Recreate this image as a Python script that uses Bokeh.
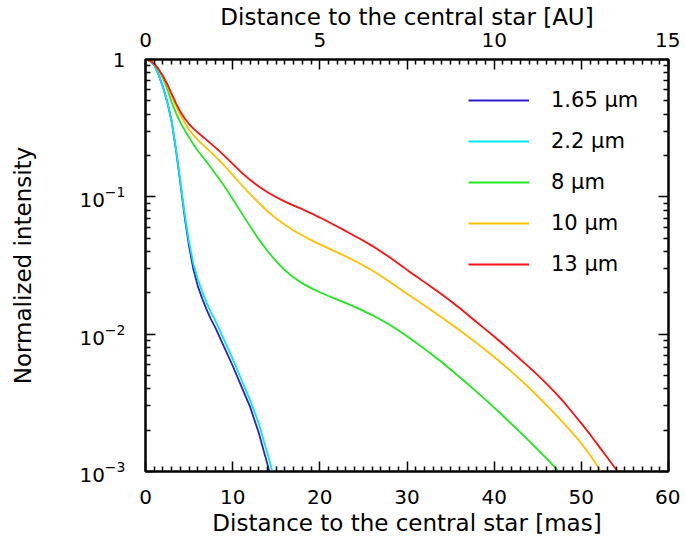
import numpy as np
from bokeh.plotting import figure
from bokeh.models import (LinearAxis, LogAxis, Range1d, FixedTicker, Legend,
                          LegendItem, LogTickFormatter)
from bokeh.embed import file_html
from bokeh.resources import INLINE

# ---- data (distance in mas, log10 of normalized intensity) ----
x_165 = [0, 0.5, 1, 1.5, 2, 2.5, 3, 3.5, 4, 4.5, 5, 5.5, 6, 6.5, 7, 7.5, 8, 9, 10, 11, 12, 13, 14, 14.2]
log10_165 = [0, -0.01, -0.04, -0.11, -0.2, -0.31, -0.45, -0.66, -0.9, -1.15, -1.36, -1.53, -1.65, -1.74,
             -1.82, -1.89, -1.95, -2.09, -2.23, -2.38, -2.53, -2.72, -2.95, -3.0]

x_22 = [0, 0.5, 1, 1.5, 2, 2.5, 3, 3.5, 4, 4.5, 5, 5.5, 6, 6.5, 7, 7.5, 8, 9, 10, 11, 12, 13, 14, 14.55]
log10_22 = [0, -0.01, -0.04, -0.11, -0.2, -0.31, -0.45, -0.65, -0.89, -1.13, -1.33, -1.49, -1.6, -1.69,
            -1.77, -1.84, -1.9, -2.04, -2.18, -2.33, -2.48, -2.65, -2.87, -3.0]

x_8 = [0, 0.5, 1, 1.5, 2, 2.5, 3, 3.5, 4, 4.5, 5, 5.5, 6, 7, 8, 9, 10, 11, 12, 13, 14, 15, 16, 17, 18,
       19, 20, 21, 22, 23, 24, 25, 26, 27, 28, 29, 30, 31, 32, 33, 34, 35, 36, 37, 38, 39, 40, 41,
       42, 43, 44, 45, 46, 47, 47.4]
log10_8 = [0, -0.008, -0.03, -0.075, -0.135, -0.215, -0.31, -0.39, -0.46, -0.515, -0.568, -0.618,
           -0.664, -0.745, -0.83, -0.917, -1.015, -1.115, -1.215, -1.31, -1.395, -1.47, -1.535,
           -1.588, -1.63, -1.665, -1.695, -1.722, -1.748, -1.774, -1.801, -1.83, -1.861, -1.895,
           -1.932, -1.972, -2.015, -2.06, -2.107, -2.155, -2.205, -2.257, -2.31, -2.365, -2.42,
           -2.477, -2.535, -2.594, -2.654, -2.715, -2.777, -2.84, -2.905, -2.972, -3.0]

x_10 = [0, 0.5, 1, 1.5, 2, 2.5, 3, 3.5, 4, 4.5, 5, 5.5, 6, 7, 8, 9, 10, 11, 12, 13, 14, 15, 16, 17,
        18, 19, 20, 21, 22, 23, 24, 25, 26, 27, 28, 29, 30, 31, 32, 33, 34, 35, 36, 37, 38, 39, 40,
        41, 42, 43, 44, 45, 46, 47, 48, 49, 50, 51, 52, 52.2]
log10_10 = [0, -0.008, -0.03, -0.07, -0.125, -0.19, -0.265, -0.34, -0.405, -0.46, -0.51, -0.55,
            -0.585, -0.645, -0.706, -0.77, -0.84, -0.912, -0.98, -1.045, -1.105, -1.158, -1.204,
            -1.245, -1.282, -1.315, -1.346, -1.375, -1.404, -1.434, -1.466, -1.5, -1.537, -1.577,
            -1.619, -1.662, -1.705, -1.748, -1.791, -1.835, -1.879, -1.924, -1.97, -2.017, -2.065,
            -2.115, -2.166, -2.219, -2.274, -2.331, -2.39, -2.452, -2.516, -2.582, -2.65, -2.72,
            -2.795, -2.88, -2.975, -3.0]

x_13 = [0, 0.5, 1, 1.5, 2, 2.5, 3, 3.5, 4, 4.5, 5, 5.5, 6, 7, 8, 9, 10, 11, 12, 13, 14, 15, 16, 17,
        18, 19, 20, 21, 22, 23, 24, 25, 26, 27, 28, 29, 30, 31, 32, 33, 34, 35, 36, 37, 38, 39, 40,
        41, 42, 43, 44, 45, 46, 47, 48, 49, 50, 51, 52, 53, 54, 54.2]
log10_13 = [0, -0.008, -0.03, -0.07, -0.12, -0.18, -0.25, -0.32, -0.38, -0.43, -0.47, -0.503, -0.532,
            -0.585, -0.64, -0.698, -0.76, -0.822, -0.877, -0.925, -0.967, -1.003, -1.035, -1.064,
            -1.09, -1.12, -1.151, -1.183, -1.216, -1.25, -1.285, -1.32, -1.357, -1.398, -1.44,
            -1.485, -1.532, -1.577, -1.621, -1.665, -1.711, -1.758, -1.808, -1.86, -1.913, -1.965,
            -2.017, -2.072, -2.127, -2.183, -2.24, -2.298, -2.36, -2.425, -2.495, -2.572, -2.65,
            -2.73, -2.815, -2.9, -2.985, -3.0]

labels = ["1.65 \u03bcm", "2.2 \u03bcm", "8 \u03bcm", "10 \u03bcm", "13 \u03bcm"]
colors = ["#2a1fd0", "#00e8ff", "#1ee81e", "#ffc000", "#ff1010"]
series_x = [x_165, x_22, x_8, x_10, x_13]
series_log = [log10_165, log10_22, log10_8, log10_10, log10_13]

y_ticks = [1e-3, 1e-2, 1e-1, 1.0]
x_ticks = [0, 10, 20, 30, 40, 50, 60]
au_ticks = [0, 2.5, 5, 7.5, 10, 12.5, 15]

FONT = "DejaVu Sans"
FS = "20px"
TFS = "23px"

p = figure(width=680, height=540, y_axis_type="log",
           x_range=Range1d(0, 60), y_range=Range1d(1e-3, 1.0),
           output_backend="svg", toolbar_location=None,
           min_border_left=145, min_border_right=12, min_border_top=58, min_border_bottom=69)
p.extra_x_ranges = {"au": Range1d(0, 15)}
p.xgrid.visible = False
p.ygrid.visible = False
p.outline_line_color = "black"
p.outline_line_width = 2
p.background_fill_color = "white"
p.border_fill_color = "white"

renderers = []
for xs, ls, c in zip(series_x, series_log, colors):
    r = p.line(xs, [10 ** v for v in ls], line_color=c, line_width=1.8)
    renderers.append(r)


def style(ax):
    ax.axis_line_width = 2
    ax.axis_line_color = "black"
    ax.major_tick_in = 10
    ax.major_tick_out = 0
    ax.minor_tick_in = 5
    ax.minor_tick_out = 0
    ax.major_tick_line_width = 1.5
    ax.minor_tick_line_width = 1.5
    ax.major_label_text_font = FONT
    ax.major_label_text_font_size = FS
    ax.major_label_text_color = "black"
    ax.axis_label_text_font = FONT
    ax.axis_label_text_font_size = TFS
    ax.axis_label_text_font_style = "normal"
    ax.axis_label_text_color = "black"


minor_x = [v for v in range(0, 61) if v % 10 != 0]
xa = p.xaxis[0]
xa.ticker = FixedTicker(ticks=x_ticks, minor_ticks=minor_x)
xa.axis_label = "Distance to the central star [mas]"
style(xa)
xa.major_label_standoff = 18
xa.axis_label_standoff = 3

ya = p.yaxis[0]
minor_y = [m * 10.0 ** d for d in (-3, -2, -1) for m in range(2, 10)]
ya.ticker = FixedTicker(ticks=y_ticks, minor_ticks=minor_y)
ya.formatter = LogTickFormatter()
ya.major_label_overrides = {1.0: "1"}
ya.axis_label = "Normalized intensity"
style(ya)
ya.major_label_standoff = 20
ya.axis_label_standoff = 40

top = LinearAxis(x_range_name="au", axis_label="Distance to the central star [AU]")
top.ticker = FixedTicker(ticks=au_ticks, minor_ticks=[k * 0.25 for k in range(61) if k % 10 != 0])
top.major_label_overrides = {2.5: "", 7.5: "", 12.5: ""}
style(top)
top.major_label_standoff = 13
top.axis_label_standoff = 0
p.add_layout(top, "above")

right = LogAxis()
right.ticker = FixedTicker(ticks=y_ticks, minor_ticks=minor_y)
right.major_label_overrides = {1e-3: "", 1e-2: "", 1e-1: "", 1.0: ""}
style(right)
p.add_layout(right, "right")

items = [LegendItem(label=l, renderers=[r]) for l, r in zip(labels, renderers)]
legend = Legend(items=items, location=(323, 192))
legend.glyph_width = 61
legend.glyph_height = 30
legend.label_height = 30
legend.spacing = 11
legend.label_standoff = 22
legend.padding = 0
legend.margin = 0
legend.border_line_alpha = 0
legend.background_fill_alpha = 0
legend.label_text_font = FONT
legend.label_text_font_size = "21px"
legend.label_text_baseline = "alphabetic"
legend.label_text_color = "black"
p.add_layout(legend)

open("out.html", "w").write(file_html(p, INLINE))
